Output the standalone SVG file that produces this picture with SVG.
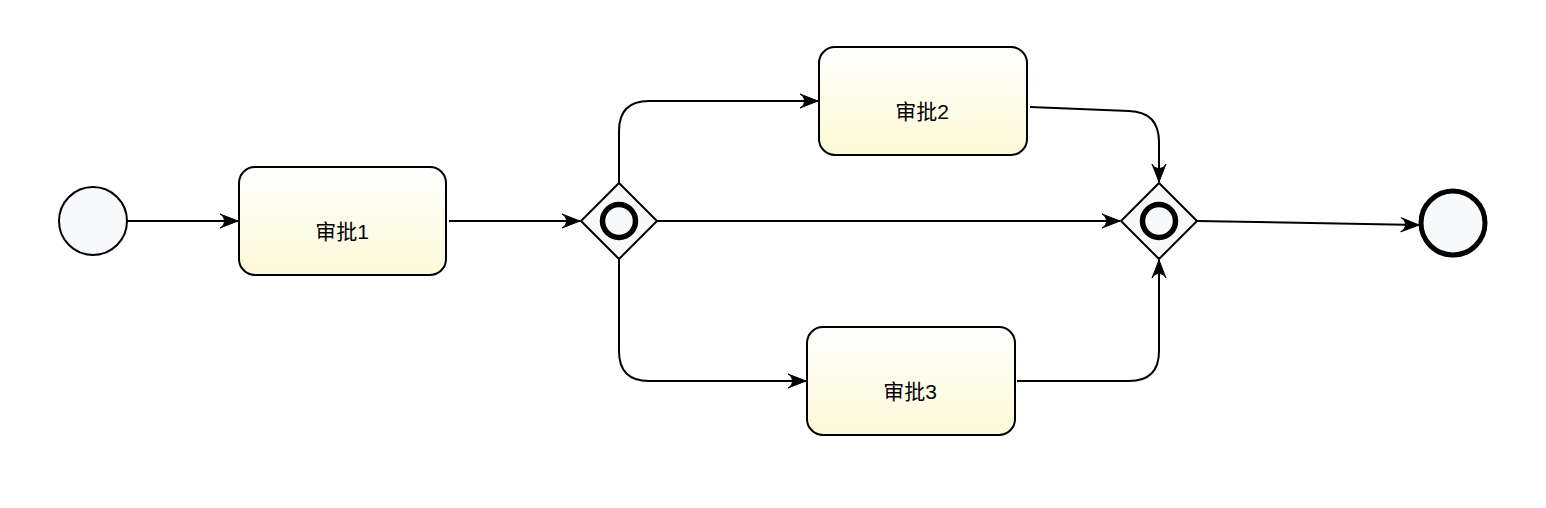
<svg xmlns="http://www.w3.org/2000/svg" width="1546" height="508" viewBox="0 0 1546 508">
<style>
.task{stroke:#000;stroke-width:2;fill:url(#tg)}
.lbl{font-family:"Liberation Sans","Noto Sans CJK SC",sans-serif;font-size:21px;fill:#000;text-anchor:middle}
.gw{fill:#f8f9fb;stroke:#000;stroke-width:2}
.gwc{fill:none;stroke:#000;stroke-width:5.5}
.edge{fill:none;stroke:#000;stroke-width:2;marker-end:url(#arr)}
</style>
<defs>
<linearGradient id="tg" x1="0" y1="0" x2="0" y2="1">
<stop offset="0" stop-color="#fefefe"/>
<stop offset="1" stop-color="#fcfad6"/>
</linearGradient>
<marker id="arr" markerWidth="22" markerHeight="18" refX="19" refY="9" orient="auto" markerUnits="userSpaceOnUse">
<path d="M1,2 C7,5 7,13 1,16 L19,9 Z" fill="#000" stroke="#000" stroke-width="1" stroke-linejoin="round"/>
</marker>
</defs>
<rect width="1546" height="508" fill="#fff"/>
<g id="connectors">
<path class="edge" d="M127,221 L238,221"/>
<path class="edge" d="M449,221 L580,221"/>
<path class="edge" d="M619,183 L619,131 Q619,101 649,101 L818,101"/>
<path class="edge" d="M619,259 L619,351 Q619,381 649,381 L806,381"/>
<path class="edge" d="M657,221 L1120,221"/>
<path class="edge" d="M1030,107 L1129,111 Q1159,112 1159,142 L1159,182"/>
<path class="edge" d="M1017,381 L1129,381 Q1159,381 1159,351 L1159,260"/>
<path class="edge" d="M1197,221 L1419,225"/>
</g>
<g id="start"><circle cx="93" cy="221" r="34" fill="#f8f9fb" stroke="#000" stroke-width="2"/></g>
<g id="task1"><rect class="task" x="239" y="167" width="207" height="108" rx="16"/><text class="lbl" x="342" y="239">审批1</text></g>
<g id="gateway1"><path class="gw" d="M619,183 L657,221 L619,259 L581,221 Z"/><circle class="gwc" cx="619" cy="221" r="16.5"/></g>
<g id="task2"><rect class="task" x="819" y="47" width="208" height="108" rx="16"/><text class="lbl" x="922" y="119">审批2</text></g>
<g id="task3"><rect class="task" x="807" y="327" width="208" height="108" rx="16"/><text class="lbl" x="910" y="399">审批3</text></g>
<g id="gateway2"><path class="gw" d="M1159,183 L1197,221 L1159,259 L1121,221 Z"/><circle class="gwc" cx="1159" cy="221" r="16.5"/></g>
<g id="end"><circle cx="1453" cy="223" r="32" fill="#f8f9fb" stroke="#000" stroke-width="5"/></g>
</svg>
